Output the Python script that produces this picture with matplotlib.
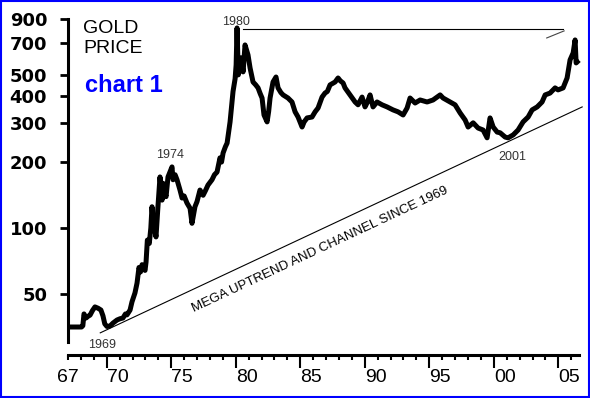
import matplotlib
matplotlib.use('Agg')
import matplotlib.pyplot as plt
from matplotlib.patches import Rectangle
from matplotlib.ticker import FuncFormatter, NullLocator

# gold price (year, USD/oz)
years = [1967.0, 1968.05, 1968.15, 1968.24, 1968.4, 1968.55, 1968.71, 1968.9, 1969.09, 1969.33,
         1969.55, 1969.71, 1969.85, 1970.02, 1970.26, 1970.49, 1970.8, 1971.03, 1971.26, 1971.45,
         1971.57, 1971.81, 1971.96, 1972.19, 1972.35, 1972.5, 1972.62, 1972.74, 1972.97, 1973.05,
         1973.15, 1973.3, 1973.42, 1973.51, 1973.59, 1973.7, 1973.82, 1973.95, 1974.13, 1974.29,
         1974.36, 1974.5, 1974.6, 1974.75, 1974.9, 1975.06, 1975.14, 1975.3, 1975.45, 1975.68,
         1975.84, 1976.0, 1976.22, 1976.46, 1976.61, 1976.84, 1977.0, 1977.23, 1977.47, 1977.65,
         1977.85, 1978.16, 1978.35, 1978.55, 1978.78, 1978.9, 1979.02, 1979.2, 1979.33, 1979.56,
         1979.79, 1979.95, 1980.03, 1980.1, 1980.2, 1980.3, 1980.41, 1980.57, 1980.72, 1980.95,
         1981.11, 1981.34, 1981.55, 1981.73, 1981.9, 1982.04, 1982.19, 1982.43, 1982.55, 1982.66,
         1982.89, 1983.12, 1983.28, 1983.5, 1983.67, 1984.05, 1984.36, 1984.6, 1984.83, 1985.14,
         1985.3, 1985.53, 1985.91, 1986.15, 1986.38, 1986.69, 1986.92, 1987.1, 1987.31, 1987.7,
         1987.93, 1988.1, 1988.32, 1988.47, 1988.86, 1989.25, 1989.48, 1989.79, 1990.02, 1990.2,
         1990.41, 1990.64, 1990.95, 1991.34, 1991.73, 1992.19, 1992.58, 1992.97, 1993.28, 1993.51,
         1993.9, 1994.29, 1994.83, 1995.29, 1995.84, 1996.07, 1996.61, 1997.0, 1997.39, 1997.78,
         1998.01, 1998.4, 1998.78, 1999.17, 1999.48, 1999.71, 1999.95, 2000.26, 2000.49, 2000.88,
         2001.11, 2001.5, 2001.88, 2002.27, 2002.66, 2002.97, 2003.36, 2003.74, 2003.98, 2004.36,
         2004.75, 2004.98, 2005.37, 2005.68, 2005.91, 2006.15, 2006.3, 2006.38, 2006.46]
prices = [35.3, 35.3, 35.8, 40.5, 38.8, 39.5, 40.0, 42.0, 43.6, 43.0,
          42.2, 39.7, 36.5, 35.5, 35.7, 36.8, 38.0, 38.5, 38.8, 40.5,
          40.1, 42.2, 46.0, 50.5, 56.0, 66.0, 63.0, 68.0, 64.0, 70.0,
          88.0, 85.0, 100.0, 125.0, 109.0, 100.0, 91.0, 120.0, 171.0, 134.0,
          160.0, 145.0, 139.0, 171.0, 180.0, 190.0, 166.0, 175.0, 166.0, 149.0,
          137.0, 140.0, 130.0, 123.0, 105.0, 125.0, 132.0, 149.0, 141.0, 148.0,
          157.0, 166.0, 175.0, 180.0, 209.0, 200.0, 220.0, 235.0, 244.0, 305.0,
          420.0, 480.0, 555.0, 819.0, 500.0, 540.0, 598.0, 516.0, 685.0, 617.0,
          538.0, 464.0, 450.0, 436.0, 410.0, 392.0, 328.0, 305.0, 340.0, 392.0,
          464.0, 489.0, 436.0, 415.0, 405.0, 392.0, 376.0, 339.0, 321.0, 289.0,
          305.0, 318.0, 321.0, 339.0, 353.0, 396.0, 413.0, 420.0, 450.0, 464.0,
          484.0, 470.0, 459.0, 436.0, 405.0, 376.0, 365.0, 396.0, 357.0, 375.0,
          405.0, 357.0, 376.0, 365.0, 357.0, 346.0, 339.0, 328.0, 353.0, 392.0,
          372.0, 384.0, 376.0, 384.0, 405.0, 392.0, 376.0, 365.0, 335.0, 311.0,
          289.0, 302.0, 286.0, 280.0, 258.0, 318.0, 289.0, 274.0, 272.0, 260.0,
          258.0, 266.0, 280.0, 305.0, 321.0, 346.0, 357.0, 376.0, 405.0, 413.0,
          436.0, 427.0, 436.0, 484.0, 585.0, 630.0, 722.0, 567.0, 573.0]

ytick_vals = [50, 100, 200, 300, 400, 500, 700, 900]
xtick_years = [1970, 1975, 1980, 1985, 1990, 1995, 2000, 2005]
xtick_labels = ['70', '75', '80', '85', '90', '95', '00', '05']

trend_years = [1969.5, 2006.85]
trend_prices = [33.2, 357]
top_years = [1980.6, 2005.4]
top_prices = [810, 810]
channel_years = [2004.1, 2005.45]
channel_prices = [737, 794]

fig = plt.figure(figsize=(5.9, 3.98), dpi=100)
ax = fig.add_axes([68/590, 43/398, 520/590, 345/398])
ax.set_yscale('log')
ax.set_xlim(1967, 2007.3)
ax.set_ylim(26.3, 989)

ax.plot(years, prices, color='black', lw=3.6)
ax.plot(trend_years, trend_prices, color='black', lw=0.8)
ax.plot(top_years, top_prices, color='black', lw=0.8)
ax.plot(channel_years, channel_prices, color='#444444', lw=0.8)

for s in ['top', 'right']:
    ax.spines[s].set_visible(False)
ax.spines['left'].set_bounds(30, 900)
ax.spines['bottom'].set_bounds(1967, 2006.6)
ax.spines['left'].set_linewidth(2.2)
ax.spines['bottom'].set_linewidth(2.2)

ax.set_yticks(ytick_vals)
ax.yaxis.set_minor_locator(NullLocator())
ax.set_yticklabels([str(v) for v in ytick_vals], fontfamily='DejaVu Sans',
                   fontweight='bold', fontsize=13)
ax.tick_params(axis='y', length=6, width=2, pad=9)

ax.set_xticks(xtick_years)
ax.set_xticklabels(xtick_labels, fontfamily='Liberation Sans', fontsize=14, ha='left')
ax.set_xticks(range(1967, 2007), minor=True)
ax.xaxis.set_minor_formatter(FuncFormatter(lambda v, p: '67' if abs(v - 1967) < 0.01 else ''))
ax.tick_params(axis='x', which='major', length=9.4, width=1.5, pad=1)
ax.tick_params(axis='x', which='minor', length=3.6, width=1.5, pad=6.8, labelsize=14)
for lab in ax.xaxis.get_minorticklabels():
    lab.set_fontfamily('Liberation Sans')

small = dict(fontfamily='Liberation Sans', fontsize=9, color='#333333', ha='center', va='baseline')
ax.text(1980.02, 845, '1980', **small)
ax.text(1974.91, 209, '1974', **small)
ax.text(1969.67, 28.4, '1969', **small)
ax.text(2001.42, 204, '2001', **small)
ax.text(1986.53, 79.8, 'MEGA UPTREND AND CHANNEL SINCE 1969', fontfamily='Liberation Sans',
        fontsize=9.5, rotation=25.1, rotation_mode='anchor', ha='center', va='center')

fig.text(83/590, 1 - 33/398, 'GOLD', fontfamily='Liberation Sans', fontsize=14, va='baseline')
fig.text(83/590, 1 - 53/398, 'PRICE', fontfamily='Liberation Sans', fontsize=14, va='baseline')
fig.text(85/590, 1 - 92/398, 'chart 1', fontfamily='Liberation Sans', fontsize=17,
         fontweight='bold', color='#0000ff', va='baseline')

fig.patches.append(Rectangle((1/590, 1.5/398), 587.5/590, 395.5/398, transform=fig.transFigure,
                             fill=False, edgecolor='#0000ff', lw=1.5))

fig.savefig('out.png', dpi=100)
